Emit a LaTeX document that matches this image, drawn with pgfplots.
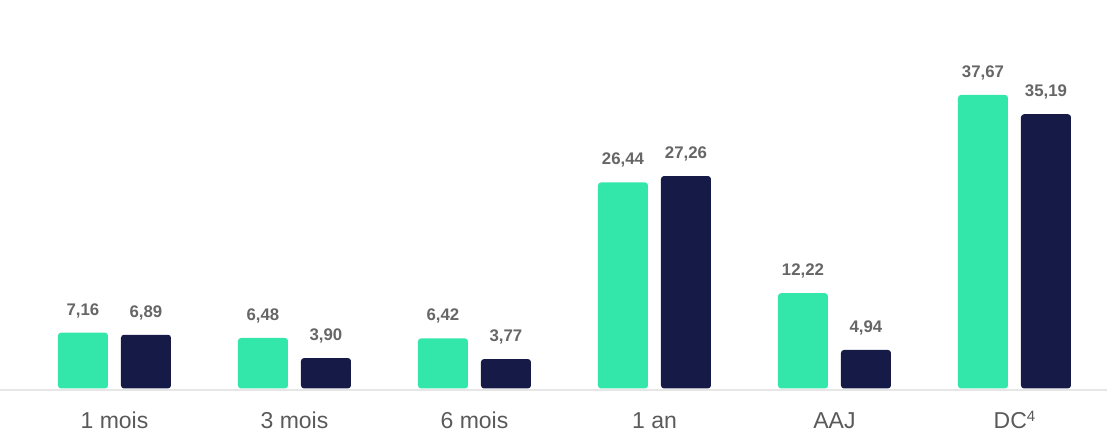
\documentclass[border=0pt]{standalone}
\usepackage{fontspec}
\setmainfont{Liberation Sans}
\usepackage{pgfplots}
\pgfplotsset{compat=1.18}
\definecolor{mint}{HTML}{33E6AA}
\definecolor{navy}{HTML}{161A47}
\definecolor{lbl}{HTML}{666666}
\definecolor{cat}{HTML}{5A5A5A}
\definecolor{baseln}{HTML}{E6E6E6}
\begin{document}
\begin{tikzpicture}
\begin{axis}[
 scale only axis, width=553.5pt, height=195pt,
 xmin=-0.636, xmax=5.514, ymin=-0.2, ymax=49.85,
 axis y line=none, axis x line=bottom,
 x axis line style={-, draw=baseln, line width=1pt},
 ybar=6.5pt, bar width=25pt,
 xtick={0,...,5}, xticklabels={1 mois,3 mois,6 mois,1 an,AAJ,DC\raisebox{0.5ex}{\fontsize{7.5}{8}\selectfont 4}},
 major tick length=0pt,
 xticklabel style={anchor=base, yshift=-19pt, font=\fontsize{11.5}{12}\selectfont, text=cat},
 /pgf/number format/use comma, /pgf/number format/fixed, /pgf/number format/fixed zerofill, /pgf/number format/precision=2,
 /pgf/number format/assume math mode=true,
 nodes near coords,
 every node near coord/.append style={font=\fontsize{8.4}{9}\selectfont\bfseries, text=lbl, anchor=base, yshift=8.75pt, inner sep=0pt},
 every axis plot/.append style={draw=none, rounded corners=1.5pt},
 clip=false,
]
\addplot[fill=mint] coordinates {(0,7.16) (1,6.48) (2,6.42) (3,26.44) (4,12.22) (5,37.67)};
\addplot[fill=navy] coordinates {(0,6.89) (1,3.90) (2,3.77) (3,27.26) (4,4.94) (5,35.19)};
\coordinate (bl) at (rel axis cs:0,0);
\coordinate (tr) at (rel axis cs:1,1);
\end{axis}
\pgfresetboundingbox
\path (bl) ++(0,-20.5pt) rectangle (tr);
\end{tikzpicture}
\end{document}
